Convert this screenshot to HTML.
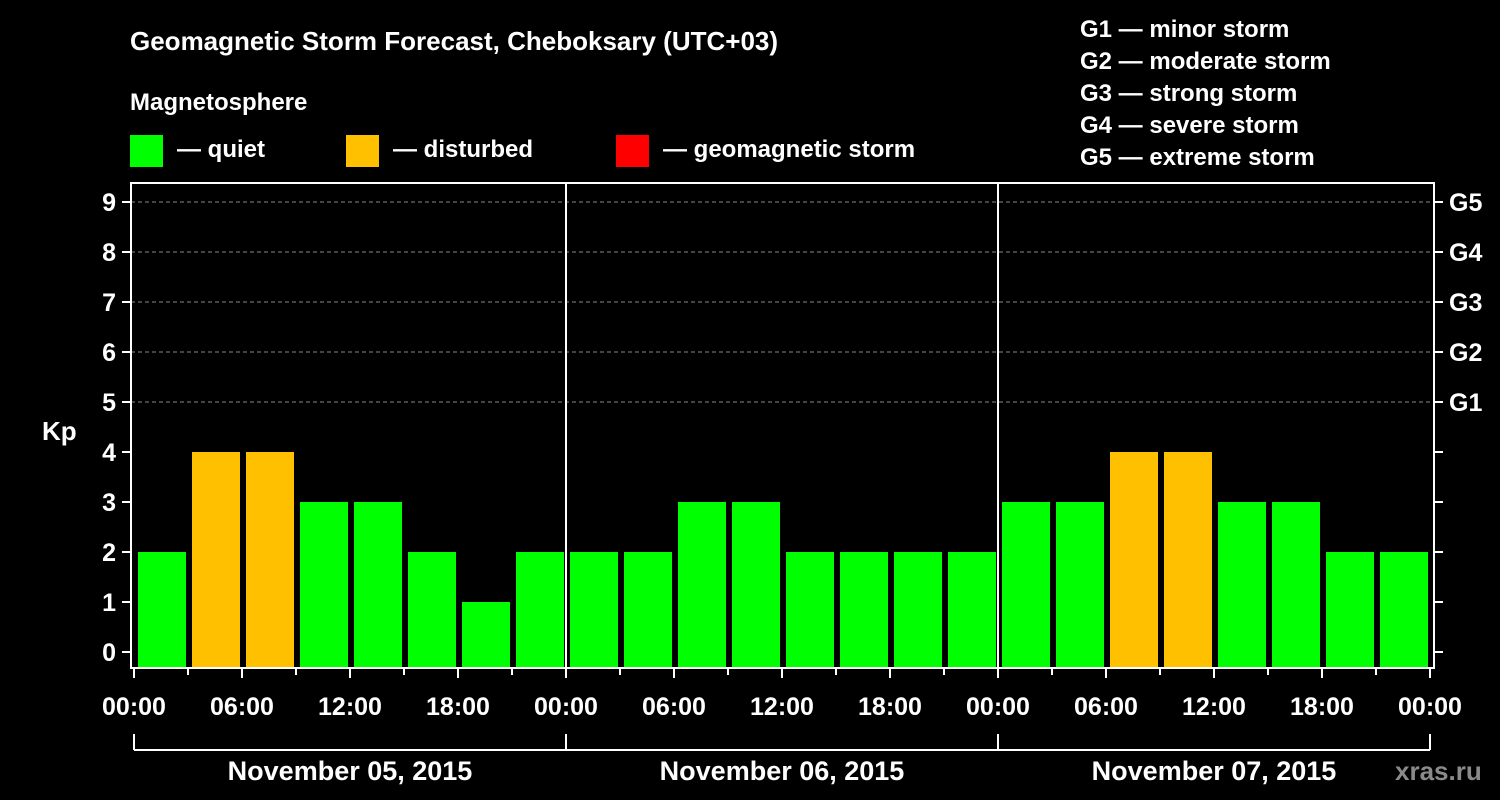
<!DOCTYPE html>
<html><head><meta charset="utf-8"><style>
body{margin:0;background:#000;width:1500px;height:800px;overflow:hidden}
svg{display:block}
text{font-family:"Liberation Sans",Arial,sans-serif;font-weight:bold;fill:#fff}
</style></head><body>
<svg id="chart" width="1500" height="800">
<text x="130" y="50" font-size="26">Geomagnetic Storm Forecast, Cheboksary (UTC+03)</text>
<text x="130" y="110" font-size="24">Magnetosphere</text>
<g><rect x="130" y="135" width="33" height="32" fill="#00ff00"/><text x="177" y="157" font-size="24">— quiet</text></g>
<g><rect x="346" y="135" width="33" height="32" fill="#ffc000"/><text x="393" y="157" font-size="24">— disturbed</text></g>
<g><rect x="616" y="135" width="33" height="32" fill="#ff0000"/><text x="663" y="157" font-size="24">— geomagnetic storm</text></g>
<g font-size="24">
<text x="1080" y="37">G1 — minor storm</text>
<text x="1080" y="69">G2 — moderate storm</text>
<text x="1080" y="101">G3 — strong storm</text>
<text x="1080" y="133">G4 — severe storm</text>
<text x="1080" y="165">G5 — extreme storm</text>
</g>
<text x="42" y="440" font-size="26">Kp</text>
<g id="grid"></g><g id="bars"></g><g id="axes"></g>
<text x="1395" y="780" font-size="26" fill="#888" style="fill:#8a8a8a">xras.ru</text>
</svg>
<script>
const days = ["November 05, 2015","November 06, 2015","November 07, 2015"];
const kpValues = [2,4,4,3,3,2,1,2, 2,2,3,3,2,2,2,2, 3,3,4,4,3,3,2,2];
const yTicks = [0,1,2,3,4,5,6,7,8,9];
const gLabels = ["G1","G2","G3","G4","G5"];
const xTickLabels = ["00:00","06:00","12:00","18:00"];

const NS="http://www.w3.org/2000/svg";
const L=131,R=1434,T=183,B=668,X0=134,DAYW=432;
const y=v=>652-v*50;
const x=h=>X0+h*DAYW/24;
function el(tag,attrs,parent,txt){const e=document.createElementNS(NS,tag);for(const k in attrs)e.setAttribute(k,attrs[k]);if(txt!==undefined)e.textContent=txt;parent.appendChild(e);return e;}
const grid=document.getElementById('grid'),bars=document.getElementById('bars'),axes=document.getElementById('axes');
for(let v=5;v<=9;v++){const g=el('line',{x1:L,x2:R,y1:y(v),y2:y(v),stroke:'#888','stroke-dasharray':'4 3','stroke-width':1},grid);

}
kpValues.forEach((v,i)=>{const c=v>=5?'#ff0000':(v>=4?'#ffc000':'#00ff00');
const r=el('rect',{x:x(i*3)+4,y:y(v),width:48,height:B-1-y(v),fill:c},bars);

});
const box=el('rect',{x:L,y:T,width:R-L,height:B-T,fill:'none',stroke:'#fff','stroke-width':2},axes);


for(let d=1;d<days.length;d++){const l=el('line',{x1:x(24*d),x2:x(24*d),y1:T,y2:B,stroke:'#fff','stroke-width':2},axes);

}
yTicks.forEach(v=>{el('line',{x1:122,x2:L,y1:y(v),y2:y(v),stroke:'#fff','stroke-width':2},axes);
el('line',{x1:R,x2:R+9,y1:y(v),y2:y(v),stroke:'#fff','stroke-width':2},axes);
const t=el('text',{x:116,y:y(v)+9,'font-size':25,'text-anchor':'end'},axes,v);

});
gLabels.forEach((g,i)=>{const t=el('text',{x:1449,y:y(5+i)+9,'font-size':25},axes,g);

});
for(let h=0;h<=24*days.length;h+=3){el('line',{x1:x(h),x2:x(h),y1:B,y2:B+(h%6===0?10:7),stroke:'#fff','stroke-width':2},axes);}
for(let h=0;h<=24*days.length;h+=6){const t=el('text',{x:x(h),y:715,'font-size':25,'text-anchor':'middle'},axes,xTickLabels[(h/6)%4]);

}
el('line',{x1:x(0),x2:x(24*days.length),y1:750,y2:750,stroke:'#fff','stroke-width':2},axes);
for(let d=0;d<=days.length;d++)el('line',{x1:x(24*d),x2:x(24*d),y1:734,y2:750,stroke:'#fff','stroke-width':2},axes);
days.forEach((d,i)=>{const t=el('text',{x:x(24*i+12),y:780,'font-size':27,'text-anchor':'middle'},axes,d);

});
</script>
</body></html>
